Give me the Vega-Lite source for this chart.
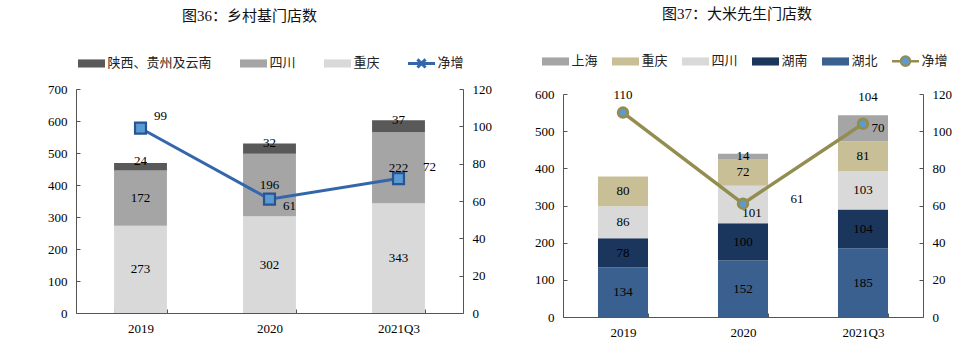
{
  "$schema": "https://vega.github.io/schema/vega-lite/v6.json",
  "background": "white",
  "padding": {"left": 16, "top": 7, "right": 5, "bottom": 5},
  "spacing": 5,
  "config": {
    "view": {"stroke": null},
    "axis": {"labelFont": "Liberation Serif", "labelFontSize": 13, "labelColor": "#000", "domainColor": "#555", "tickColor": "#555", "grid": false, "tickSize": -4, "labelPadding": 13, "labelOverlap": false},
    "legend": {"labelFont": "Noto Sans CJK SC", "labelFontSize": 13, "labelColor": "#222"},
    "title": {"font": "Liberation Serif, Noto Sans CJK SC", "fontSize": 15, "fontWeight": "normal", "color": "#111"},
    "text": {"font": "Liberation Serif", "fontSize": 13, "color": "#000"}
  },
  "datasets": {
    "leftBars": [
      {"year": "2019", "region": "重庆", "n": 273},
      {"year": "2019", "region": "四川", "n": 172},
      {"year": "2019", "region": "陕西、贵州及云南", "n": 24},
      {"year": "2020", "region": "重庆", "n": 302},
      {"year": "2020", "region": "四川", "n": 196},
      {"year": "2020", "region": "陕西、贵州及云南", "n": 32},
      {"year": "2021Q3", "region": "重庆", "n": 343},
      {"year": "2021Q3", "region": "四川", "n": 222},
      {"year": "2021Q3", "region": "陕西、贵州及云南", "n": 37}
    ],
    "leftLine": [
      {"year": "2019", "net": 99},
      {"year": "2020", "net": 61},
      {"year": "2021Q3", "net": 72}
    ],
    "rightBars": [
      {"year": "2019", "region": "湖北", "n": 134},
      {"year": "2019", "region": "湖南", "n": 78},
      {"year": "2019", "region": "四川", "n": 86},
      {"year": "2019", "region": "重庆", "n": 80},
      {"year": "2020", "region": "湖北", "n": 152},
      {"year": "2020", "region": "湖南", "n": 100},
      {"year": "2020", "region": "四川", "n": 101},
      {"year": "2020", "region": "重庆", "n": 72},
      {"year": "2020", "region": "上海", "n": 14},
      {"year": "2021Q3", "region": "湖北", "n": 185},
      {"year": "2021Q3", "region": "湖南", "n": 104},
      {"year": "2021Q3", "region": "四川", "n": 103},
      {"year": "2021Q3", "region": "重庆", "n": 81},
      {"year": "2021Q3", "region": "上海", "n": 70}
    ],
    "rightLine": [
      {"year": "2019", "net": 110},
      {"year": "2020", "net": 61},
      {"year": "2021Q3", "net": 104}
    ]
  },
  "hconcat": [
    {
      "width": 387,
      "height": 224,
      "title": {"text": "图36：乡村基门店数", "anchor": "middle", "dx": -20, "offset": 24},
      "layer": [
        {
          "data": {"name": "leftBars"},
          "transform": [
            {"calculate": "indexof(['重庆','四川','陕西、贵州及云南'], datum.region)", "as": "rank"},
            {"stack": "n", "groupby": ["year"], "sort": [{"field": "rank", "order": "ascending"}], "as": ["n0", "n1"]},
            {"calculate": "(datum.n0 + datum.n1) / 2", "as": "mid"}
          ],
          "encoding": {
            "x": {"field": "year", "type": "nominal", "scale": {"paddingInner": 0.59, "paddingOuter": 0.295}, "axis": {"title": null, "labelAngle": 0, "tickBand": "extent", "labelPadding": 13}}
          },
          "layer": [
            {
              "mark": {"type": "bar"},
              "encoding": {
                "y": {"field": "n1", "type": "quantitative", "scale": {"domain": [0, 700]}, "axis": {"title": null, "values": [0, 100, 200, 300, 400, 500, 600, 700], "minExtent": 60, "maxExtent": 60, "labelPadding": 13}},
                "y2": {"field": "n0"},
                "color": {
                  "field": "region", "type": "nominal",
                  "scale": {"domain": ["陕西、贵州及云南", "四川", "重庆", "净增"], "range": ["#595959", "#a5a5a5", "#d9d9d9", "#2e5c98"]},
                  "legend": {
                    "orient": "none", "legendX": 0.5, "legendY": -41, "direction": "horizontal", "title": null,
                    "symbolSize": 729, "symbolStrokeWidth": 3, "columnPadding": 21, "labelOffset": 1,
                    "encode": {"symbols": {"update": {
                      "shape": {"signal": "datum.value === '净增' ? 'M-1,0H1M-0.3,-0.3L0.3,0.3M-0.3,0.3L0.3,-0.3' : 'M-1,-0.3H1V0.3H-1Z'"},
                      "stroke": {"signal": "datum.value === '净增' ? '#3366aa' : 'transparent'"}
                    }}}
                  }
                }
              }
            },
            {
              "transform": [{"filter": "datum.region !== '陕西、贵州及云南'"}],
              "mark": {"type": "text"},
              "encoding": {"y": {"field": "mid", "type": "quantitative", "scale": {"domain": [0, 700]}, "axis": {"title": null, "values": [0, 100, 200, 300, 400, 500, 600, 700], "minExtent": 60, "maxExtent": 60, "labelPadding": 13}}, "text": {"field": "n", "type": "quantitative"}}
            },
            {
              "transform": [{"filter": "datum.region === '陕西、贵州及云南'"}],
              "mark": {"type": "text", "dy": -6},
              "encoding": {"y": {"field": "mid", "type": "quantitative", "scale": {"domain": [0, 700]}, "axis": {"title": null, "values": [0, 100, 200, 300, 400, 500, 600, 700], "minExtent": 60, "maxExtent": 60, "labelPadding": 13}}, "text": {"field": "n", "type": "quantitative"}}
            }
          ]
        },
        {
          "data": {"name": "leftLine"},
          "encoding": {
            "x": {"field": "year", "type": "nominal"},
            "y": {"field": "net", "type": "quantitative", "scale": {"domain": [0, 120]}, "axis": {"title": null, "orient": "right", "values": [0, 20, 40, 60, 80, 100, 120], "minExtent": 45, "maxExtent": 45, "labelPadding": 13}}
          },
          "layer": [
            {"mark": {"type": "line", "color": "#3366aa", "strokeWidth": 3}},
            {"mark": {"type": "point", "shape": "square", "filled": true, "fill": "#5b9bd5", "stroke": "#2a5490", "strokeWidth": 2.2, "size": 120, "opacity": 1}},
            {"transform": [{"filter": "datum.year === '2019'"}], "mark": {"type": "text", "dx": 20, "dy": -12}, "encoding": {"text": {"field": "net", "type": "quantitative"}}},
            {"transform": [{"filter": "datum.year === '2020'"}], "mark": {"type": "text", "dx": 20, "dy": 7}, "encoding": {"text": {"field": "net", "type": "quantitative"}}},
            {"transform": [{"filter": "datum.year === '2021Q3'"}], "mark": {"type": "text", "dx": 31, "dy": -12}, "encoding": {"text": {"field": "net", "type": "quantitative"}}}
          ]
        }
      ],
      "resolve": {"scale": {"y": "independent"}}
    },
    {
      "width": 360,
      "height": 228,
      "title": {"text": "图37：大米先生门店数", "anchor": "middle", "dx": -6, "offset": 24},
      "layer": [
        {
          "data": {"name": "rightBars"},
          "transform": [
            {"calculate": "indexof(['湖北','湖南','四川','重庆','上海'], datum.region)", "as": "rank"},
            {"stack": "n", "groupby": ["year"], "sort": [{"field": "rank", "order": "ascending"}], "as": ["n0", "n1"]},
            {"calculate": "(datum.n0 + datum.n1) / 2", "as": "mid"}
          ],
          "encoding": {
            "x": {"field": "year", "type": "nominal", "scale": {"paddingInner": 0.583, "paddingOuter": 0.2915}, "axis": {"title": null, "labelAngle": 0, "tickBand": "extent", "labelPadding": 13}}
          },
          "layer": [
            {
              "mark": {"type": "bar"},
              "encoding": {
                "y": {"field": "n1", "type": "quantitative", "scale": {"domain": [0, 600], "rangeMax": 5}, "axis": {"title": null, "values": [0, 100, 200, 300, 400, 500, 600], "minExtent": 50, "maxExtent": 50, "labelPadding": 13}},
                "y2": {"field": "n0"},
                "color": {
                  "field": "region", "type": "nominal",
                  "scale": {"domain": ["上海", "重庆", "四川", "湖南", "湖北", "净增"], "range": ["#a5a5a5", "#c9bf97", "#d9d9d9", "#1b365d", "#3a6090", "#5b9bd5"]},
                  "legend": {
                    "orient": "none", "legendX": -22.5, "legendY": -43, "direction": "horizontal", "title": null,
                    "symbolSize": 729, "symbolStrokeWidth": 2.5, "columnPadding": 8, "labelOffset": 1,
                    "encode": {"symbols": {"update": {
                      "shape": {"signal": "datum.value === '净增' ? 'M-1,0H-0.34M0.34,0H1M0.34,0A0.34,0.34 0 1,1 -0.34,0A0.34,0.34 0 1,1 0.34,0Z' : 'M-1,-0.3H1V0.3H-1Z'"},
                      "stroke": {"signal": "datum.value === '净增' ? '#938d50' : 'transparent'"}
                    }}}
                  }
                }
              }
            },
            {
              "transform": [{"filter": "!((datum.year === '2020' && datum.region === '四川') || (datum.year === '2021Q3' && datum.region === '上海'))"}],
              "mark": {"type": "text"},
              "encoding": {"y": {"field": "mid", "type": "quantitative", "scale": {"domain": [0, 600], "rangeMax": 5}, "axis": {"title": null, "values": [0, 100, 200, 300, 400, 500, 600], "minExtent": 50, "maxExtent": 50, "labelPadding": 13}}, "text": {"field": "n", "type": "quantitative"}}
            },
            {
              "transform": [{"filter": "datum.year === '2020' && datum.region === '四川'"}],
              "mark": {"type": "text", "dx": 9, "dy": 8},
              "encoding": {"y": {"field": "mid", "type": "quantitative", "scale": {"domain": [0, 600], "rangeMax": 5}, "axis": {"title": null, "values": [0, 100, 200, 300, 400, 500, 600], "minExtent": 50, "maxExtent": 50, "labelPadding": 13}}, "text": {"field": "n", "type": "quantitative"}}
            },
            {
              "transform": [{"filter": "datum.year === '2021Q3' && datum.region === '上海'"}],
              "mark": {"type": "text", "dx": 15},
              "encoding": {"y": {"field": "mid", "type": "quantitative", "scale": {"domain": [0, 600], "rangeMax": 5}, "axis": {"title": null, "values": [0, 100, 200, 300, 400, 500, 600], "minExtent": 50, "maxExtent": 50, "labelPadding": 13}}, "text": {"field": "n", "type": "quantitative"}}
            }
          ]
        },
        {
          "data": {"name": "rightLine"},
          "encoding": {
            "x": {"field": "year", "type": "nominal"},
            "y": {"field": "net", "type": "quantitative", "scale": {"domain": [0, 120], "rangeMax": 5}, "axis": {"title": null, "orient": "right", "values": [0, 20, 40, 60, 80, 100, 120], "minExtent": 35, "maxExtent": 35, "labelPadding": 13}}
          },
          "layer": [
            {"mark": {"type": "line", "color": "#938d50", "strokeWidth": 3.5}},
            {"mark": {"type": "point", "shape": "circle", "filled": true, "fill": "#5b9bd5", "stroke": "#938d50", "strokeWidth": 3, "size": 90, "opacity": 1}},
            {"transform": [{"filter": "datum.year === '2019'"}], "mark": {"type": "text", "dy": -18}, "encoding": {"text": {"field": "net", "type": "quantitative"}}},
            {"transform": [{"filter": "datum.year === '2020'"}], "mark": {"type": "text", "dx": 54, "dy": -5}, "encoding": {"text": {"field": "net", "type": "quantitative"}}},
            {"transform": [{"filter": "datum.year === '2021Q3'"}], "mark": {"type": "text", "dx": 5, "dy": -27}, "encoding": {"text": {"field": "net", "type": "quantitative"}}}
          ]
        }
      ],
      "resolve": {"scale": {"y": "independent"}}
    }
  ],
  "resolve": {"scale": {"color": "independent", "x": "independent", "y": "independent"}, "legend": {"color": "independent"}}
}
